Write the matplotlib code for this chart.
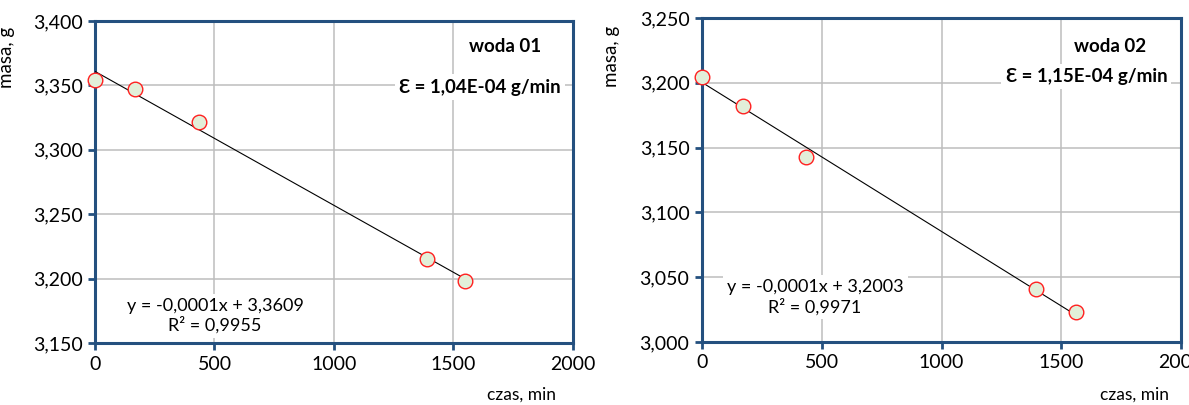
import matplotlib
matplotlib.use('Agg')
from matplotlib import pyplot as plt
from matplotlib.ticker import FuncFormatter
import numpy as np

plt.rcParams['font.family'] = ['Lato', 'DejaVu Sans']

# czas pomiaru [min] i masa próbki [g]
czas_01 = [0, 168, 434, 1390, 1548]
masa_01 = [3.354, 3.3475, 3.322, 3.215, 3.1985]
czas_02 = [0, 170, 436, 1394, 1560]
masa_02 = [3.2045, 3.182, 3.143, 3.041, 3.0235]

# parametry linii trendu
slope_01, intercept_01, r2_01 = -1.04e-4, 3.3609, 0.9955
slope_02, intercept_02, r2_02 = -1.15e-4, 3.2003, 0.9971

nazwy = ['woda 01', 'woda 02']
eps_txt = ['1,04E-04', '1,15E-04']
ylims = [(3.150, 3.400), (3.000, 3.250)]

blue = '#24507F'
fill = '#E2EFD9'

fig = plt.figure(figsize=(11.89, 4.05), dpi=100)
ax1 = fig.add_axes([0.0799, 0.153, 0.402, 0.795])
ax2 = fig.add_axes([0.5904, 0.1556, 0.4029, 0.80])

comma = FuncFormatter(lambda v, p: ('%.3f' % v).replace('.', ','))

setup = [
    (ax1, czas_01, masa_01, slope_01, intercept_01, r2_01, (1715, 3.3806), (1611, 3.3488), (502, 3.171), (-0.167, 0.888), (0.893, -0.135)),
    (ax2, czas_02, masa_02, slope_02, intercept_02, r2_02, (1702, 3.2279), (1605, 3.2047), (472, 3.0347), (-0.172, 0.88), (0.902, -0.138)),
]

for i, (ax, x, y, a, b, r2, pos_name, pos_eps, pos_eq, ylab, xlab) in enumerate(setup):
    ax.set_xlim(0, 2000)
    ax.set_ylim(*ylims[i])
    ax.set_xticks([0, 500, 1000, 1500, 2000])
    ax.set_yticks(np.linspace(ylims[i][0], ylims[i][1], 6))
    ax.yaxis.set_major_formatter(comma)
    ax.grid(True, color='#BDBDBD', linewidth=1.1)
    ax.set_axisbelow(True)
    for s in ax.spines.values():
        s.set_color(blue)
        s.set_linewidth(2.2)
    ax.tick_params(direction='out', length=5, width=2, color=blue, labelsize=14, pad=4)

    # linia trendu
    xt = np.array([0, max(x)])
    ax.plot(xt, a * xt + b, color='black', linewidth=0.8, zorder=3)
    ax.plot(x, y, 'o', markersize=10.5, markerfacecolor=fill, markeredgecolor='#FF2020',
            markeredgewidth=1.0, clip_on=False, zorder=4)

    ax.text(*pos_name, nazwy[i], ha='center', va='center', fontsize=13.5, fontweight='bold', zorder=5)
    ax.text(*pos_eps, '\u0190 = %s g/min' % eps_txt[i], ha='center', va='center', fontsize=13.5,
            fontweight='bold', zorder=5,
            bbox=dict(facecolor='white', edgecolor='none', pad=3))
    eq = 'y = -0,0001x + %s\nR\u00b2 = %s' % (('%.4f' % b).replace('.', ','), ('%.4f' % r2).replace('.', ','))
    ax.text(*pos_eq, eq, ha='center', va='center', fontsize=13, linespacing=1.2, zorder=5,
            bbox=dict(facecolor='white', edgecolor='none', pad=3))

    ax.set_ylabel('masa, g', fontsize=13.5)
    ax.yaxis.set_label_coords(*ylab)
    ax.set_xlabel('czas, min', fontsize=12.5)
    ax.xaxis.set_label_coords(*xlab)

fig.savefig('out.png', dpi=100)
